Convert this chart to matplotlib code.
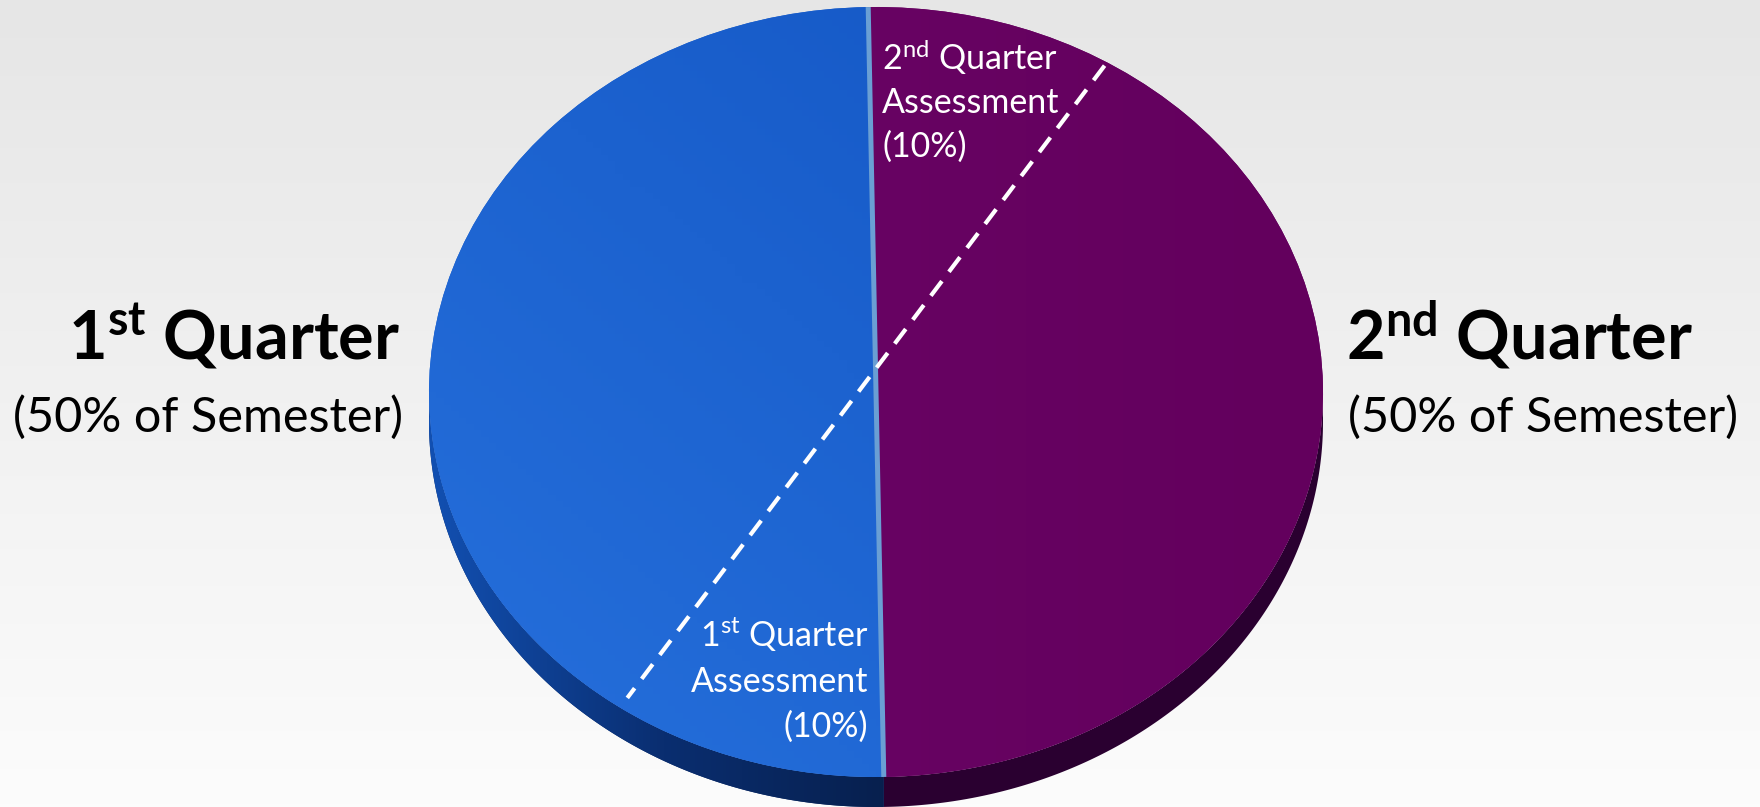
import numpy as np
import matplotlib.pyplot as plt
from matplotlib.colors import LinearSegmentedColormap
from matplotlib.patches import Polygon

plt.rcParams['font.family'] = ['Lato', 'DejaVu Sans']
plt.rcParams['mathtext.fontset'] = 'custom'
plt.rcParams['mathtext.rm'] = 'Lato'
plt.rcParams['mathtext.bf'] = 'Lato:bold'

# data
ordinals = ["1", "2"]
suffixes = ["st", "nd"]
quarter_share = [50, 50]          # % of semester
assessment_share = [10, 10]       # % of semester

W, H = 1760, 807
fig = plt.figure(figsize=(W / 100, H / 100), dpi=100)

# background gradient
bg = fig.add_axes([0, 0, 1, 1])
bg.imshow(np.linspace(0, 1, 256)[:, None],
          cmap=LinearSegmentedColormap.from_list('bg', ['#e6e6e6', '#fcfcfc']),
          extent=(0, W, H, 0), aspect='auto')
bg.set_xlim(0, W)
bg.set_ylim(H, 0)
bg.axis('off')

# pie geometry in pixels
cx, cy, rx, ry, depth = 876, 392, 447, 385, 30
d = depth / ry
ax = fig.add_axes([(cx - rx) / W, (H - (cy + ry + depth)) / H,
                   2 * rx / W, (2 * ry + depth) / H])

wedges, _ = ax.pie(quarter_share, colors=['#1a5fcc', '#670262'], startangle=91,
                   counterclock=True, wedgeprops=dict(linewidth=0, zorder=3))
split = wedges[0].theta2


def side(t0, t1):
    t = np.radians(np.linspace(t0, t1, 300))
    top = np.column_stack([np.cos(t), np.sin(t)])
    bot = np.column_stack([np.cos(t[::-1]), np.sin(t[::-1]) - d])
    return np.vstack([top, bot])


# side of the disc
blue_side = Polygon(side(180, split), facecolor='#0a2a66', edgecolor='none', zorder=1)
purple_side = Polygon(side(split, 360), facecolor='#2a0030', edgecolor='none', zorder=1)
ax.add_patch(blue_side)
ax.add_patch(purple_side)
im = ax.imshow(np.linspace(0, 1, 256)[None, :],
               cmap=LinearSegmentedColormap.from_list('bs', ['#1250b2', '#0a2e70', '#071f4c']),
               extent=(-1, 0.05, -1 - d, 0.05), aspect='auto', zorder=2)
im.set_clip_path(blue_side)

# subtle shading on the top face
xs = np.linspace(-1, 1, 120)
ys = np.linspace(1, -1, 120)
diag = (2 - xs[None, :] - ys[:, None]) / 4
im = ax.imshow(diag, cmap=LinearSegmentedColormap.from_list('bt', ['#1254c2', '#2670dc']),
               extent=(-1, 1, -1, 1), aspect='auto', zorder=3.5)
im.set_clip_path(wedges[0])
im = ax.imshow(np.tile((xs + 1) / 2, (2, 1)),
               cmap=LinearSegmentedColormap.from_list('pt', ['#6c0668', '#63005d']),
               extent=(-1, 1, -1, 1), aspect='auto', zorder=3.5)
im.set_clip_path(wedges[1])

# dividing line between quarters
a0, a1 = np.radians(wedges[0].theta1), np.radians(split)
ax.plot([np.cos(a0), np.cos(a1)], [np.sin(a0), np.sin(a1)],
        color='#6a9fd4', lw=3.6, solid_capstyle='butt', zorder=5)

# dashed line marking the assessments
t_top, t_bot = np.radians(58.9), np.radians(235.0)
ax.plot([0.99 * np.cos(t_top), 0.97 * np.cos(t_bot)],
        [0.99 * np.sin(t_top), 0.97 * np.sin(t_bot)],
        color='white', lw=3.0, dashes=(4.4, 2.8), zorder=5)

ax.set_aspect('auto')
ax.set_xlim(-1, 1)
ax.set_ylim(-1 - d, 1)
ax.axis('off')

# text layer
txt = fig.add_axes([0, 0, 1, 1])
txt.set_xlim(0, W)
txt.set_ylim(H, 0)
txt.axis('off')
txt.patch.set_alpha(0)

note = [f"({s}% of Semester)" for s in quarter_share]
txt.text(400, 360, rf"$\mathbf{{{ordinals[0]}^{{{suffixes[0]}}}}}$ Quarter",
         ha='right', va='baseline', fontsize=48, fontweight='bold')
txt.text(403, 432, note[0], ha='right', va='baseline', fontsize=35)
txt.text(1346, 360, rf"$\mathbf{{{ordinals[1]}^{{{suffixes[1]}}}}}$ Quarter",
         ha='left', va='baseline', fontsize=48, fontweight='bold')
txt.text(1348, 432, note[1], ha='left', va='baseline', fontsize=35)

lines2 = [rf"$\mathrm{{{ordinals[1]}^{{{suffixes[1]}}}}}$ Quarter", "Assessment",
          f"({assessment_share[1]}%)"]
for line, yb in zip(lines2, [70, 113, 157]):
    txt.text(882, yb, line, ha='left', va='baseline', fontsize=24.5, color='white')

lines1 = [rf"$\mathrm{{{ordinals[0]}^{{{suffixes[0]}}}}}$ Quarter", "Assessment",
          f"({assessment_share[0]}%)"]
for line, yb in zip(lines1, [647, 692, 737]):
    txt.text(868, yb, line, ha='right', va='baseline', fontsize=24.5, color='white')

fig.savefig('out.png', dpi=100)
